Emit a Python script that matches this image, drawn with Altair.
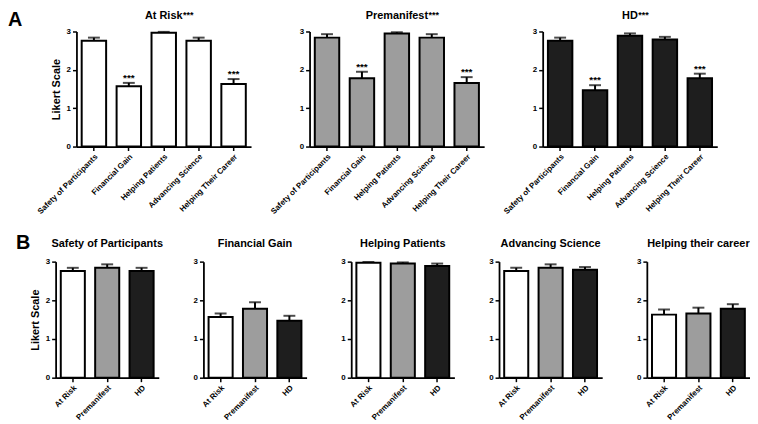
import altair as alt
import pandas as pd

groups = ["At Risk", "Premanifest", "HD"]
items = ["Safety of Participants", "Financial Gain", "Helping Patients",
         "Advancing Science", "Helping Their Career"]
bottom_titles = ["Safety of Participants", "Financial Gain", "Helping Patients",
                 "Advancing Science", "Helping their career"]

at_risk_mean = [2.76, 1.57, 2.97, 2.76, 1.63]
at_risk_sem = [0.08, 0.09, 0.02, 0.08, 0.13]
premanifest_mean = [2.84, 1.78, 2.95, 2.84, 1.66]
premanifest_sem = [0.09, 0.17, 0.03, 0.09, 0.15]
hd_mean = [2.76, 1.47, 2.89, 2.79, 1.78]
hd_sem = [0.08, 0.13, 0.06, 0.07, 0.12]
significant = [False, True, False, False, True]

fills = ["#ffffff", "#9d9d9d", "#1e1e1e"]
FONT = "Liberation Sans"

rows = []
for g, m, s in zip(groups, [at_risk_mean, premanifest_mean, hd_mean],
                   [at_risk_sem, premanifest_sem, hd_sem]):
    for i, it in enumerate(items):
        rows.append({"group": g, "item": it, "title": bottom_titles[i],
                     "mean": m[i], "hi": m[i] + s[i], "star": significant[i]})
df = pd.DataFrame(rows)

TOP_W, TOP_H = 176, 116
BOT_W, BOT_H = 104, 117


def y_enc(field, show_title):
    return alt.Y(f"{field}:Q",
                 scale=alt.Scale(domain=[0, 3], nice=False, zero=True),
                 axis=alt.Axis(values=[0, 1, 2, 3], format="d",
                               title="Likert Scale" if show_title else None,
                               titleFontSize=11, titlePadding=5))


def title_w(text, size=11):
    w = {"A": .722, "t": .333, " ": .278, "R": .722, "i": .278, "s": .556,
         "k": .556, "P": .667, "r": .389, "e": .556, "m": .889, "a": .556,
         "n": .611, "f": .333, "H": .722, "D": .722}
    return sum(w.get(c, .556) for c in text) * size


def label_text(text, x, y, size=11, align="center"):
    return alt.Chart(pd.DataFrame({"t": [text]})).mark_text(
        font=FONT, fontSize=size, fontWeight="bold", align=align,
        baseline="alphabetic", color="black").encode(
        text="t:N", x=alt.value(x), y=alt.value(y))


def top_panel(idx):
    g = groups[idx]
    d = df[df.group == g]
    base = alt.Chart(d)
    x = alt.X("item:N", sort=items,
              scale=alt.Scale(paddingInner=0.3, paddingOuter=0.15),
              axis=alt.Axis(title=None, labelAngle=-45, labelPadding=2))
    show = idx == 0
    bars = base.mark_bar(fill=fills[idx], stroke="black", strokeWidth=2).encode(
        x=x, y=y_enc("mean", show))
    err = base.mark_rule(color="black", strokeWidth=2).encode(
        x=x, y=y_enc("mean", show), y2="hi:Q")
    cap = base.mark_tick(color="black", thickness=2, size=12).encode(
        x=x, y=y_enc("hi", show))
    stars = base.transform_filter("datum.star").mark_text(
        text="***", font=FONT, fontSize=10, fontWeight="bold",
        baseline="alphabetic", dy=-2, color="black").encode(
        x=x, y=y_enc("hi", show))
    layers = [bars, err, cap, stars,
              label_text(g, TOP_W / 2, -13),
              label_text("***", TOP_W / 2 + title_w(g) / 2 + 0.5, -14,
                         size=9, align="left")]
    if idx == 0:
        layers.append(label_text("A", -69, -6, size=20, align="left"))
    return alt.layer(*layers).properties(width=TOP_W, height=TOP_H)


def bottom_panel(idx):
    it = items[idx]
    d = df[df["item"] == it]
    base = alt.Chart(d)
    x = alt.X("group:N", sort=groups,
              scale=alt.Scale(paddingInner=0.3, paddingOuter=0.15),
              axis=alt.Axis(title=None, labelAngle=-45, labelPadding=2))
    show = idx == 0
    bars = base.mark_bar(stroke="black", strokeWidth=2).encode(
        x=x, y=y_enc("mean", show),
        fill=alt.Fill("group:N", scale=alt.Scale(domain=groups, range=fills),
                      legend=None))
    err = base.mark_rule(color="black", strokeWidth=2).encode(
        x=x, y=y_enc("mean", show), y2="hi:Q")
    cap = base.mark_tick(color="black", thickness=2, size=12).encode(
        x=x, y=y_enc("hi", show))
    layers = [bars, err, cap, label_text(bottom_titles[idx], BOT_W / 2, -15)]
    if idx == 0:
        layers.append(label_text("B", -40, -13, size=20, align="left"))
    return alt.layer(*layers).properties(width=BOT_W, height=BOT_H)


# an empty, one-pixel-wide view that offsets the top row to the right
spacer = alt.Chart(pd.DataFrame({"t": [""]})).mark_text().encode(
    text="t:N").properties(width=1, height=TOP_H)

top_panels = alt.hconcat(*[top_panel(i) for i in range(3)], spacing=59,
                         bounds="flush")
top = alt.hconcat(spacer, top_panels, spacing=20, bounds="flush")
bottom = alt.hconcat(*[bottom_panel(i) for i in range(5)], spacing=45,
                     bounds="flush")

chart = alt.vconcat(top, bottom, spacing=17).properties(
    padding=0
).configure_view(stroke=None).configure_axis(
    grid=False, domainColor="black", domainWidth=1.8, tickColor="black",
    tickWidth=1.5, tickSize=4, labelFont=FONT, labelFontWeight="bold",
    labelFontSize=8, labelColor="black", titleFont=FONT,
    titleFontWeight="bold", titleColor="black"
)

chart.save("out.html", embed_options={"renderer": "svg", "actions": False})
